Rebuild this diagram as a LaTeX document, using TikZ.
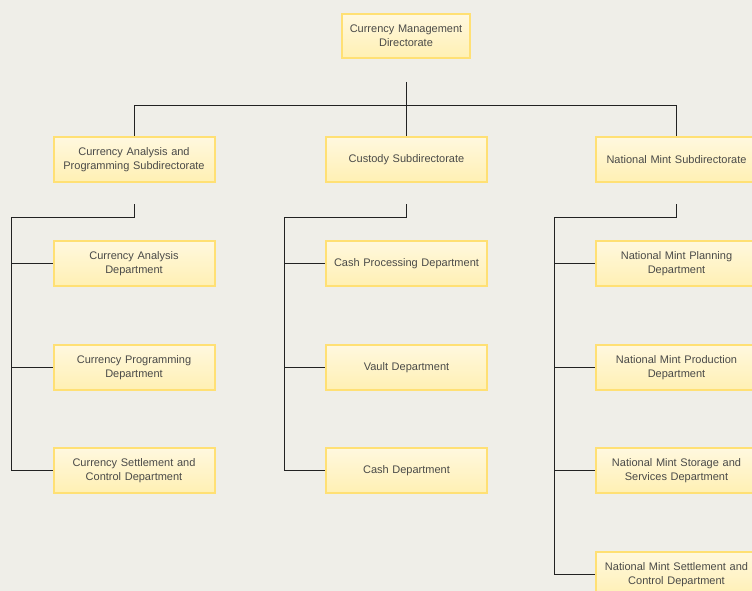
\documentclass[tikz,border=0pt]{standalone}
\usepackage{fontspec}
\setmainfont{Liberation Sans}
\usetikzlibrary{positioning,calc}

\definecolor{pagebg}{HTML}{EFEEE8}
\definecolor{boxtop}{HTML}{FFF8DF}
\definecolor{boxbot}{HTML}{FFF0B3}
\definecolor{boxline}{HTML}{FFE074}
\definecolor{boxtext}{HTML}{4A4A48}
\definecolor{linkcol}{HTML}{222222}

\begin{document}
\begin{tikzpicture}
	% Styles
	[
	x=1pt,y=-1pt,
	unit/.style={rectangle,draw=boxline,line width=2pt,top color=boxtop,bottom color=boxbot,
		minimum width=161pt,minimum height=45pt,inner sep=0pt,text width=155pt,align=center,
		text=boxtext,font=\fontsize{11}{14}\selectfont},
	head/.style={unit,minimum width=128pt,text width=122pt,minimum height=44pt},
	link/.style={draw=linkcol,line width=0.9pt},
	]

	% Background
	\useasboundingbox (0,0) rectangle (752,591);
	\clip (0,0) rectangle (752,591);
	\fill[pagebg] (0,0) rectangle (752,591);

	% Nodes
	\node at (406,36)	(cmd)	[head]	{Currency Management\\Directorate};

	\node at (134,159.5)	(cap)	[unit]	{Currency Analysis and\\Programming Subdirectorate};
	\node at (406.5,159.5)	(cus)	[unit]	{Custody Subdirectorate};
	\node at (676.5,159.5)	(mint)	[unit]	{National Mint Subdirectorate};

	\node at (134,263.5)	(cap1)	[unit]	{Currency Analysis\\Department};
	\node at (134,367.5)	(cap2)	[unit]	{Currency Programming\\Department};
	\node at (134,470.5)	(cap3)	[unit]	{Currency Settlement and\\Control Department};

	\node at (406.5,263.5)	(cus1)	[unit]	{Cash Processing Department};
	\node at (406.5,367.5)	(cus2)	[unit]	{Vault Department};
	\node at (406.5,470.5)	(cus3)	[unit]	{Cash Department};

	\node at (676.5,263.5)	(mint1)	[unit]	{National Mint Planning\\Department};
	\node at (676.5,367.5)	(mint2)	[unit]	{National Mint Production\\Department};
	\node at (676.5,470.5)	(mint3)	[unit]	{National Mint Storage and\\Services Department};
	\node at (676.5,574.5)	(mint4)	[unit]	{National Mint Settlement and\\Control Department};

	% Coordinates
	\coordinate (cmd-stub)	at (406,82);
	\coordinate (bus)	at (406,105);
	\coordinate (cap-stub)	at (134,204);
	\coordinate (cap-rail)	at (11,217);
	\coordinate (cus-stub)	at (406,204);
	\coordinate (cus-rail)	at (284,217);
	\coordinate (mint-stub)	at (676.5,204);
	\coordinate (mint-rail)	at (554,217);

	% Links
	\draw[link] (cmd-stub) -- (bus);
	\draw[link] (cap.north) -- (cap.north |- bus) -- (mint.north |- bus) -- (mint.north);
	\draw[link] (bus) -- (bus |- cus.north);

	\draw[link] (cap-stub) |- (cap-rail) -- (cap-rail |- cap3.west) -- (cap3.west);
	\foreach \n in {cap1,cap2}
		\draw[link] (cap-rail |- \n.west) -- (\n.west);

	\draw[link] (cus-stub) |- (cus-rail) -- (cus-rail |- cus3.west) -- (cus3.west);
	\foreach \n in {cus1,cus2}
		\draw[link] (cus-rail |- \n.west) -- (\n.west);

	\draw[link] (mint-stub) |- (mint-rail) -- (mint-rail |- mint4.west) -- (mint4.west);
	\foreach \n in {mint1,mint2,mint3}
		\draw[link] (mint-rail |- \n.west) -- (\n.west);
\end{tikzpicture}
\end{document}
